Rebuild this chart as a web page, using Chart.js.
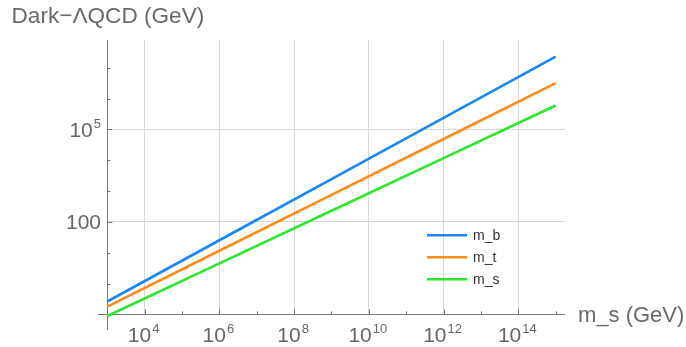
<!DOCTYPE html>
<html><head><meta charset="utf-8">
<script src="https://cdn.jsdelivr.net/npm/chart.js@4"></script>
<style>html,body{margin:0;padding:0;background:#fff;overflow:hidden}</style>
</head><body>
<canvas id="c" width="686" height="347"></canvas>
<script>
// ---- data ----
const xValues   = [1e3, 1e6, 1e9, 1e12, 1e15];           // m_s (GeV)
const mbValues  = [0.262, 25.4, 2455, 2.38e5, 2.30e7];     // Dark-ΛQCD for m_b
const mtValues  = [0.178, 11.6, 752, 4.89e4, 3.18e6];      // Dark-ΛQCD for m_t
const msValues  = [0.0887, 4.52, 230, 1.17e4, 5.97e5];     // Dark-ΛQCD for m_s
const seriesLabels = ['m_b', 'm_t', 'm_s'];
const seriesColors = ['#1a86f7', '#ff8a1c', '#2ee62e'];
const xTickValues = [1e4, 1e6, 1e8, 1e10, 1e12, 1e14];
const xTickLabels = ['10^4', '10^6', '10^8', '10^10', '10^12', '10^14'];
const xMinorTicks = [1e3,1e4,1e5,1e6,1e7,1e8,1e9,1e10,1e11,1e12,1e13,1e14,1e15];
const yTickValues = [100, 1e5];
const yTickLabels = ['100', '10^5'];
const yMinorTicks = [1e-1,1e0,1e1,1e2,1e3,1e4,1e5,1e6,1e7];
const yTitle = 'Dark\u2212\u039BQCD (GeV)';
const xTitle = 'm_s (GeV)';

const FONT = "'Liberation Sans', Arial, Helvetica, sans-serif";
const series = [mbValues, mtValues, msValues];
const lg = v => Math.round(Math.log10(v));
const xMajor = xTickValues.map(lg), yMajor = yTickValues.map(lg);

function drawLabel(ctx, text, x, baseY, align) {
  const parts = text.split('^');
  ctx.font = '21px ' + FONT;
  const wb = ctx.measureText(parts[0]).width;
  let ws = 0;
  if (parts[1]) { ctx.font = '13px ' + FONT; ws = ctx.measureText(parts[1]).width + 1; }
  const total = wb + ws;
  let sx = align === 'right' ? x - total : x - total / 2;
  ctx.textAlign = 'left'; ctx.textBaseline = 'alphabetic';
  ctx.font = '21px ' + FONT;
  ctx.fillText(parts[0], sx, baseY);
  if (parts[1]) { ctx.font = '13px ' + FONT; ctx.fillText(parts[1], sx + wb + 1, baseY - 8.5); }
}

const decor = {
  id: 'decor',
  beforeDatasetsDraw(chart) {
    const {ctx, scales: {x, y}} = chart;
    const x0 = x.getPixelForValue(1e3), y0 = y.getPixelForValue(1e-1);
    ctx.save();
    ctx.strokeStyle = '#777'; ctx.lineWidth = 1;
    ctx.beginPath();
    ctx.moveTo(98, Math.round(y0) + 0.5); ctx.lineTo(x.right, Math.round(y0) + 0.5);
    ctx.moveTo(Math.round(x0) + 0.5, y.top); ctx.lineTo(Math.round(x0) + 0.5, 330);
    // inward ticks
    xMinorTicks.forEach(v => {
      const px = Math.round(x.getPixelForValue(v)) + 0.5;
      const len = xMajor.includes(lg(v)) ? 5 : 3;
      ctx.moveTo(px, y0); ctx.lineTo(px, y0 - len);
    });
    yMinorTicks.forEach(v => {
      const py = Math.round(y.getPixelForValue(v)) + 0.5;
      const len = yMajor.includes(lg(v)) ? 5 : 3;
      ctx.moveTo(x0, py); ctx.lineTo(x0 + len, py);
    });
    ctx.stroke();
    ctx.restore();
  },
  afterDraw(chart) {
    const {ctx, scales: {x, y}} = chart;
    const y0 = y.getPixelForValue(1e-1);
    ctx.save();
    ctx.fillStyle = '#666';
    xTickValues.forEach((v, i) => drawLabel(ctx, xTickLabels[i], x.getPixelForValue(v) - 1, y0 + 27.3, 'center'));
    yTickValues.forEach((v, i) => drawLabel(ctx, yTickLabels[i], 101, y.getPixelForValue(v) + 7.5, 'right'));
    ctx.textAlign = 'left'; ctx.textBaseline = 'alphabetic';
    ctx.fillStyle = '#6a6a6a';
    ctx.font = '22.6px ' + FONT;
    ctx.fillText(yTitle, 11.5, 22.7);
    ctx.font = '22px ' + FONT;
    ctx.fillText(xTitle, 578, y0 + 7.3);
    // legend
    chart.data.datasets.forEach((ds, i) => {
      const ly = 235.3 + i * 22;
      ctx.strokeStyle = ds.borderColor; ctx.lineWidth = 2.5;
      ctx.beginPath(); ctx.moveTo(427, ly); ctx.lineTo(467, ly); ctx.stroke();
      ctx.fillStyle = '#333'; ctx.font = '14px ' + FONT;
      ctx.fillText(ds.label, 473, ly + 4.5);
    });
    ctx.restore();
  }
};

const gridColor = (majors) => (c) => (c.tick && majors.includes(lg(c.tick.value))) ? '#d8d8d8' : 'rgba(0,0,0,0)';

new Chart(document.getElementById('c'), {
  type: 'line',
  data: {
    datasets: series.map((vals, i) => ({
      label: seriesLabels[i],
      data: xValues.map((xv, j) => ({x: xv, y: vals[j]})),
      borderColor: seriesColors[i],
      borderWidth: 2.6,
      pointRadius: 0,
      tension: 0,
      fill: false,
      clip: false
    }))
  },
  options: {
    responsive: false,
    animation: false,
    devicePixelRatio: 1,
    layout: {padding: {left: 107.3, right: 121, top: 40, bottom: 32.6}},
    plugins: {legend: {display: false}, tooltip: {enabled: false}, title: {display: false}},
    scales: {
      x: {
        type: 'logarithmic', min: 1e3, max: Math.pow(10, 15.25),
        afterBuildTicks: s => { s.ticks = xMinorTicks.map(v => ({value: v})); },
        ticks: {display: false},
        grid: {drawTicks: false, color: gridColor(xMajor), lineWidth: 1},
        border: {display: false}
      },
      y: {
        type: 'logarithmic', min: 1e-1, max: Math.pow(10, 7.9),
        afterBuildTicks: s => { s.ticks = yMinorTicks.map(v => ({value: v})); },
        ticks: {display: false},
        grid: {drawTicks: false, color: gridColor(yMajor), lineWidth: 1},
        border: {display: false}
      }
    }
  },
  plugins: [decor]
});
</script>
</body></html>
